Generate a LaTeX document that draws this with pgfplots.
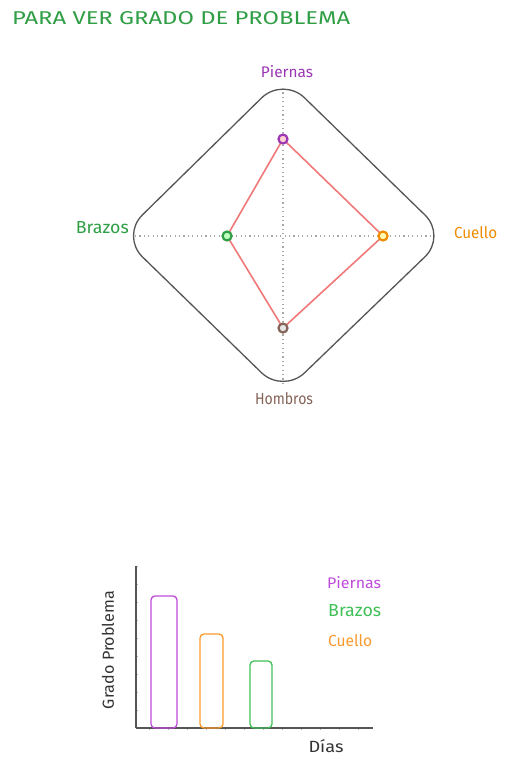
\documentclass[border=0pt]{standalone}
\usepackage{pgfplots}
\pgfplotsset{compat=1.18}
\usepackage{fontspec}
\setmainfont{Fira Sans}
\definecolor{xgreen}{HTML}{2F9E44}
\definecolor{xgreenl}{HTML}{40C057}
\definecolor{xpurple}{HTML}{9C36B5}
\definecolor{xpurplel}{HTML}{BE4BDB}
\definecolor{xorange}{HTML}{F08C00}
\definecolor{xorangel}{HTML}{FD9A2E}
\definecolor{xbrown}{HTML}{846358}
\definecolor{xred}{HTML}{F07878}
\definecolor{xgray}{HTML}{555555}
\begin{document}
\begin{tikzpicture}
\path[use as bounding box] (0pt,0pt) rectangle (515pt,762pt);
% title
\node[anchor=west,text=xgreen,inner sep=0pt] at (12pt,744pt) {\resizebox{338pt}{13pt}{PARA VER GRADO DE PROBLEMA}};
% radar chart
\begin{axis}[
  at={(283pt,526pt)}, anchor=center,
  scale only axis, width=296pt, height=296pt,
  xmin=-1, xmax=1, ymin=-1, ymax=1,
  hide axis, clip=false]
  \draw[xgray, line width=1.3pt, rounded corners=30pt]
    (axis cs:0,1.075) -- (axis cs:1.105,0) -- (axis cs:0,-1.065) -- (axis cs:-1.095,0) -- cycle;
  \draw[gray!70, line width=1.2pt, dash pattern=on 1.2pt off 3.2pt] (axis cs:-1,0) -- (axis cs:1,0);
  \draw[gray!70, line width=1.2pt, dash pattern=on 1.2pt off 3.2pt] (axis cs:0,-1) -- (axis cs:0,1);
  \addplot[xred, line width=1.6pt, mark=none] coordinates {(0,0.655) (0.676,0) (0,-0.622) (-0.378,0) (0,0.655)};
  \addplot[only marks, mark=*, mark size=4.5pt, draw=xpurple, fill=pink!70, line width=2.2pt] coordinates {(0,0.655)};
  \addplot[only marks, mark=*, mark size=4.5pt, draw=xorange, fill=yellow!30, line width=2.2pt] coordinates {(0.676,0)};
  \addplot[only marks, mark=*, mark size=4.5pt, draw=xbrown, fill=gray!20, line width=2.2pt] coordinates {(0,-0.622)};
  \addplot[only marks, mark=*, mark size=4.5pt, draw=xgreen, fill=green!25, line width=2.2pt] coordinates {(-0.378,0)};
  \node[text=xpurple, inner sep=0pt] at (axis cs:0.027,1.108) {\resizebox{52pt}{12pt}{Piernas}};
  \node[text=xbrown, inner sep=0pt] at (axis cs:0.007,-1.10) {\resizebox{58pt}{12pt}{Hombros}};
  \node[text=xorange, inner sep=0pt, anchor=west] at (axis cs:1.155,0.02) {\resizebox{43pt}{12pt}{Cuello}};
  \node[text=xgreen, inner sep=0pt, anchor=east] at (axis cs:-1.04,0.054) {\resizebox{53pt}{12pt}{Brazos}};
\end{axis}
% bar chart
\begin{axis}[
  at={(136pt,34pt)}, anchor=south west,
  scale only axis, width=237pt, height=162pt,
  xmin=0, xmax=237, ymin=0, ymax=162,
  axis lines=left, axis line style={-, xgray, line width=1.2pt},
  xtick={13,32,51,70,89,108,127,146,165,184,203,222}, ytick={18,36,...,162},
  xticklabels={}, yticklabels={},
  tick align=center, major tick length=3pt,
  tick style={gray!60, line width=0.6pt},
  clip=false]
  \addplot[ybar, bar width=26, bar shift=0pt, draw=xpurplel, fill=none, line width=1.3pt, rounded corners=4pt] coordinates {(28,132)};
  \addplot[ybar, bar width=23, bar shift=0pt, draw=xorangel, fill=none, line width=1.3pt, rounded corners=4pt] coordinates {(75.5,94)};
  \addplot[ybar, bar width=22, bar shift=0pt, draw=xgreenl, fill=none, line width=1.3pt, rounded corners=4pt] coordinates {(125,67)};
  \node[text=xpurplel, anchor=west, inner sep=0pt] at (axis cs:191,145) {\resizebox{54pt}{12pt}{Piernas}};
  \node[text=xgreenl, anchor=west, inner sep=0pt] at (axis cs:192,117) {\resizebox{53pt}{12pt}{Brazos}};
  \node[text=xorangel, anchor=west, inner sep=0pt] at (axis cs:192,87) {\resizebox{44pt}{12pt}{Cuello}};
  \node[text=black!80, inner sep=0pt] at (axis cs:190,-18) {\resizebox{35pt}{13pt}{Días}};
  \node[text=black!80, inner sep=0pt, rotate=90] at (axis cs:-28,78) {\resizebox{118pt}{12pt}{Grado Problema}};
\end{axis}
\end{tikzpicture}
\end{document}
